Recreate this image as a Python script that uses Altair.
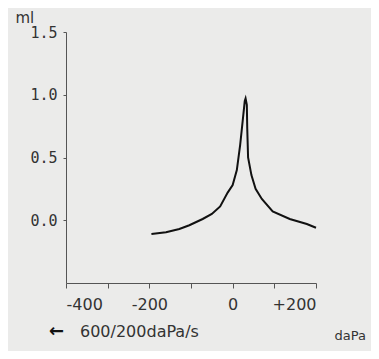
import altair as alt
import pandas as pd

pressure = [-195, -160, -128, -104, -72, -50, -30, -12, 0, 10, 18, 24, 29, 31,
            34, 35, 37, 45, 55, 70, 96, 137, 178, 200]
volume = [-0.11, -0.095, -0.07, -0.04, 0.01, 0.05, 0.11, 0.22, 0.28, 0.40, 0.60, 0.79, 0.95, 0.97,
          0.92, 0.73, 0.50, 0.36, 0.25, 0.17, 0.07, 0.01, -0.03, -0.06]
x_ticks = [-400, -300, -200, -100, 0, 100, 200]
y_ticks = [0.0, 0.5, 1.0, 1.5]

df = pd.DataFrame({"p": pressure, "v": volume, "o": list(range(len(pressure)))})

label_color = "#333333"
axis_color = "#555555"

line = alt.Chart(df).mark_line(color="#111111", strokeWidth=2, interpolate="linear").encode(
    x=alt.X("p:Q", scale=alt.Scale(domain=[-400, 200], nice=False, zero=False),
            axis=alt.Axis(values=x_ticks, grid=False, title="daPa",
                          labelExpr="datum.value == 200 ? '+200' : datum.value == 0 ? '0' : datum.value == -200 ? '-200' : datum.value == -400 ? '-400' : ''",
                          labelFont="DejaVu Sans", labelFontSize=16, labelColor=label_color,
                          labelPadding=8, tickSize=5, tickColor=axis_color, domainColor=axis_color,
                          titleFont="DejaVu Sans", titleFontSize=13, titleFontWeight="normal",
                          titleColor=label_color, titleX=268, titleY=46, titleAlign="left")),
    y=alt.Y("v:Q", scale=alt.Scale(domain=[-0.5, 1.5], nice=False, zero=False),
            axis=alt.Axis(values=y_ticks, grid=False, format=".1f", title="ml", titleAngle=0,
                          labelFont="DejaVu Sans Mono", labelFontSize=15, labelColor=label_color,
                          labelPadding=6, tickSize=3, tickColor=axis_color, domainColor=axis_color,
                          titleFont="DejaVu Sans", titleFontSize=15, titleFontWeight="normal",
                          titleColor=label_color, titleX=-51, titleY=-15, titleAlign="left",
                          titleBaseline="middle")),
    order="o:Q",
)

arrow = alt.Chart(pd.DataFrame({"t": ["\u2190"]})).mark_text(
    align="left", baseline="middle", font="DejaVu Sans", fontSize=18, fontWeight="bold",
    color="#111111"
).encode(text="t:N", x=alt.value(-17), y=alt.value(300))

note = alt.Chart(pd.DataFrame({"t": ["600/200daPa/s"]})).mark_text(
    align="left", baseline="middle", font="DejaVu Sans", fontSize=16, color=label_color
).encode(text="t:N", x=alt.value(14), y=alt.value(300))

chart = alt.layer(line, arrow, note).properties(
    width=250, height=251,
    autosize=alt.AutoSizeParams(type="none"),
    padding={"left": 58, "top": 24, "right": 55, "bottom": 68},
    background="#ebebea",
).configure_view(stroke=None)

chart.save("out.html", embed_options={"renderer": "svg", "actions": False})
